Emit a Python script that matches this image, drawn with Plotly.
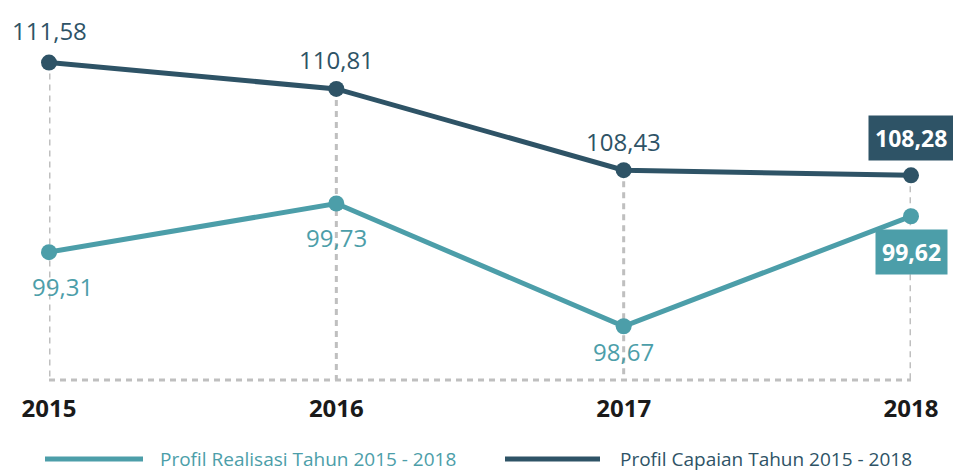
import plotly.graph_objects as go

years = [2015, 2016, 2017, 2018]
year_labels = ["2015", "2016", "2017", "2018"]
capaian = [111.58, 110.81, 108.43, 108.28]
realisasi = [99.31, 99.73, 98.67, 99.62]
capaian_labels = ["111,58", "110,81", "108,43", "108,28"]
realisasi_labels = ["99,31", "99,73", "98,67", "99,62"]
name_realisasi = "Profil Realisasi Tahun 2015 - 2018"
name_capaian = "Profil Capaian Tahun 2015 - 2018"

DARK = "#2e5366"
TEAL = "#4c9ea9"
GRID = "#bfbfbf"
FONT = "Open Sans"

OFF = 8  # page body margin
W, H = 961 - OFF, 473 - OFF
L, T = 49 - OFF, 40 - OFF
R = W - (911 - OFF)
B = H - (380 - OFF)
Y2_RANGE = [102.286, 112.242]
Y_RANGE = [98.206, 101.142]

fig = go.Figure()

for x, v in zip(years, capaian):
    fig.add_shape(type="line", xref="x", yref="y2", x0=x, x1=x, y0=v, y1=Y2_RANGE[0],
                  line=dict(color=GRID, width=3, dash="6px,5px"), layer="below")
fig.add_shape(type="line", xref="x", yref="paper", x0=years[0], x1=years[-1], y0=0, y1=0,
              line=dict(color=GRID, width=3, dash="6px,5px"), layer="below")

fig.add_trace(go.Scatter(x=years, y=realisasi, mode="lines+markers", name=name_realisasi,
                         line=dict(color=TEAL, width=5), marker=dict(size=16, color=TEAL),
                         yaxis="y", cliponaxis=False, showlegend=False))
fig.add_trace(go.Scatter(x=years, y=capaian, mode="lines+markers", name=name_capaian,
                         line=dict(color=DARK, width=5), marker=dict(size=16, color=DARK),
                         yaxis="y2", cliponaxis=False, showlegend=False))

cap_shift = [(0, 32), (0, 29), (0, 29), (0, 37)]
for i, (x, v, t) in enumerate(zip(years, capaian, capaian_labels)):
    dx, dy = cap_shift[i]
    last = i == len(years) - 1
    fig.add_annotation(x=x, y=v, xref="x", yref="y2", text=f"<b>{t}</b>" if last else t,
                       showarrow=False, xanchor="center", yanchor="middle", xshift=dx, yshift=dy,
                       font=dict(family=FONT, size=23 if last else 24,
                                 color="white" if last else DARK),
                       bgcolor=DARK if last else None, borderpad=6 if last else 0)

real_shift = [(13, -34), (0, -34), (0, -25), (0, -36)]
for i, (x, v, t) in enumerate(zip(years, realisasi, realisasi_labels)):
    dx, dy = real_shift[i]
    last = i == len(years) - 1
    fig.add_annotation(x=x, y=v, xref="x", yref="y", text=f"<b>{t}</b>" if last else t,
                       showarrow=False, xanchor="center", yanchor="middle", xshift=dx, yshift=dy,
                       font=dict(family=FONT, size=23 if last else 24,
                                 color="white" if last else TEAL),
                       bgcolor=TEAL if last else None, borderpad=6 if last else 0)

PW = W - L - R
PH = H - T - B
def px(x):
    return (x - OFF - L) / PW
def py(y):
    return (H - B - (y - OFF)) / PH

ly = py(459)
fig.add_shape(type="line", xref="paper", yref="paper", x0=px(45), x1=px(143), y0=ly, y1=ly,
              line=dict(color=TEAL, width=5))
fig.add_annotation(xref="paper", yref="paper", x=px(158), y=ly, text=name_realisasi,
                   showarrow=False, xanchor="left", yanchor="middle",
                   font=dict(family=FONT, size=19, color=TEAL))
fig.add_shape(type="line", xref="paper", yref="paper", x0=px(505), x1=px(600), y0=ly, y1=ly,
              line=dict(color=DARK, width=5))
fig.add_annotation(xref="paper", yref="paper", x=px(618), y=ly, text=name_capaian,
                   showarrow=False, xanchor="left", yanchor="middle",
                   font=dict(family=FONT, size=19, color=DARK))

fig.update_layout(
    width=W, height=H,
    margin=dict(l=L, r=R, t=T, b=B),
    paper_bgcolor="white", plot_bgcolor="white",
    xaxis=dict(range=[years[0], years[-1]], tickvals=years, ticktext=[f"<b>{y}</b>" for y in year_labels],
               showgrid=False, zeroline=False, showline=False, ticks="",
               tickfont=dict(family=FONT, size=24, color="#1a1a1a"), ticklabelstandoff=12),
    yaxis=dict(range=Y_RANGE, visible=False),
    yaxis2=dict(range=Y2_RANGE, visible=False, overlaying="y", side="right"),
    showlegend=False,
)

fig.write_html("out.html")
